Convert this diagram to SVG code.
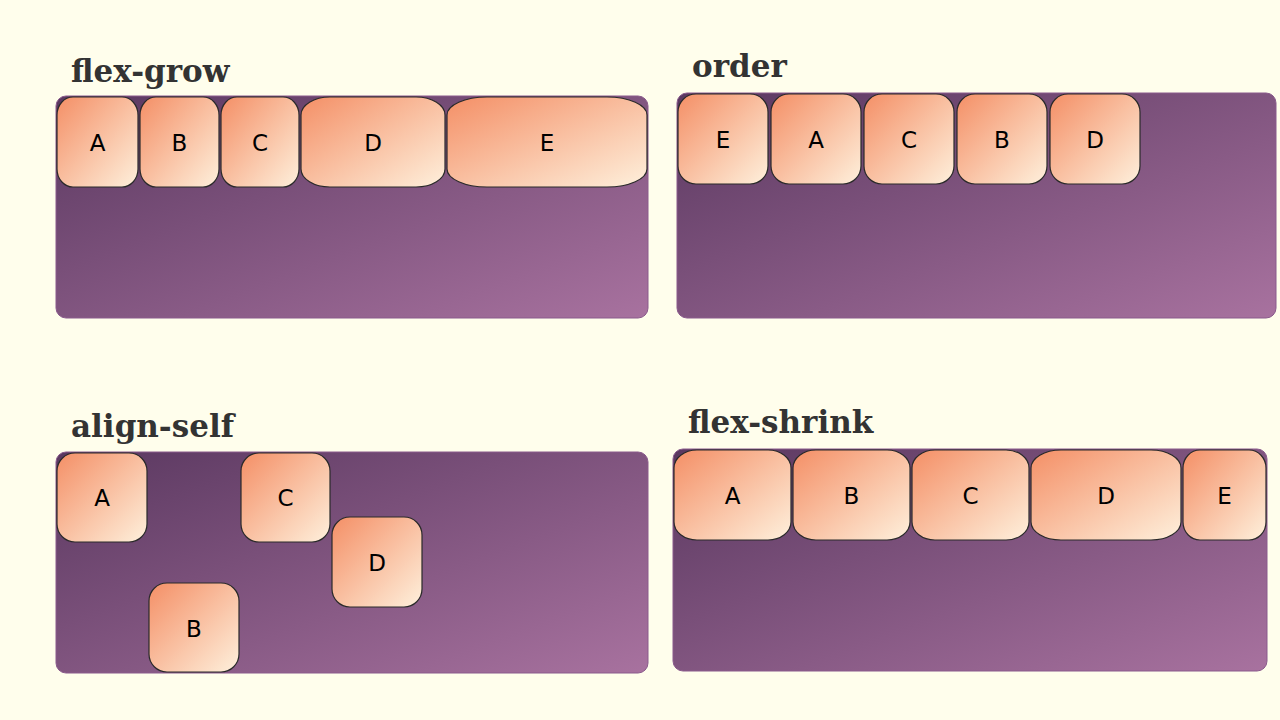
<svg xmlns="http://www.w3.org/2000/svg" width="1280" height="720" viewBox="0 0 1280 720">
<defs>
<linearGradient id="pg" x1="0" y1="0" x2="1" y2="1">
<stop offset="0" stop-color="#5a3860"/>
<stop offset="1" stop-color="#a8729f"/>
</linearGradient>
<linearGradient id="bg" x1="0" y1="0" x2="1" y2="1">
<stop offset="0" stop-color="#f48f66"/>
<stop offset="1" stop-color="#fef0dc"/>
</linearGradient>
<style>
.title{font-family:"DejaVu Serif","Liberation Serif",serif;font-weight:bold;font-size:31px;fill:#333}
.panel{fill:url(#pg);stroke:#8a5a8c;stroke-width:1}
.box{fill:url(#bg);stroke:#2a2a2a;stroke-width:1.2}
.lbl{font-family:"DejaVu Sans","Liberation Sans",sans-serif;font-size:23px;fill:#000;text-anchor:middle}
</style>
</defs>
<rect width="1280" height="720" fill="#fffeec"/>

<g id="panel-flex-grow">
<text class="title" x="71" y="82">flex-grow</text>
<rect class="panel" x="56" y="96" width="592" height="222" rx="10"/>
<g id="fg-A"><rect class="box" x="57" y="97" width="81" height="90" rx="16" ry="18"/><text class="lbl" x="97.5" y="151">A</text></g>
<g id="fg-B"><rect class="box" x="140" y="97" width="79" height="90" rx="16" ry="18"/><text class="lbl" x="179.5" y="151">B</text></g>
<g id="fg-C"><rect class="box" x="221" y="97" width="78" height="90" rx="16" ry="18"/><text class="lbl" x="260" y="151">C</text></g>
<g id="fg-D"><rect class="box" x="301" y="97" width="144" height="90" rx="29" ry="18"/><text class="lbl" x="373" y="151">D</text></g>
<g id="fg-E"><rect class="box" x="447" y="97" width="200" height="90" rx="40" ry="18"/><text class="lbl" x="547" y="151">E</text></g>
</g>

<g id="panel-order">
<text class="title" x="692" y="77">order</text>
<rect class="panel" x="677" y="93" width="599" height="225" rx="10"/>
<g id="or-E"><rect class="box" x="678" y="94" width="90" height="90" rx="18"/><text class="lbl" x="723" y="148">E</text></g>
<g id="or-A"><rect class="box" x="771" y="94" width="90" height="90" rx="18"/><text class="lbl" x="816" y="148">A</text></g>
<g id="or-C"><rect class="box" x="864" y="94" width="90" height="90" rx="18"/><text class="lbl" x="909" y="148">C</text></g>
<g id="or-B"><rect class="box" x="957" y="94" width="90" height="90" rx="18"/><text class="lbl" x="1002" y="148">B</text></g>
<g id="or-D"><rect class="box" x="1050" y="94" width="90" height="90" rx="18"/><text class="lbl" x="1095" y="148">D</text></g>
</g>

<g id="panel-align-self">
<text class="title" x="71" y="437">align-self</text>
<rect class="panel" x="56" y="452" width="592" height="221" rx="10"/>
<g id="as-A"><rect class="box" x="57" y="453" width="90" height="89" rx="18"/><text class="lbl" x="102" y="506">A</text></g>
<g id="as-C"><rect class="box" x="241" y="453" width="89" height="89" rx="18"/><text class="lbl" x="285.5" y="506">C</text></g>
<g id="as-D"><rect class="box" x="332" y="517" width="90" height="90" rx="18"/><text class="lbl" x="377" y="571">D</text></g>
<g id="as-B"><rect class="box" x="149" y="583" width="90" height="89" rx="18"/><text class="lbl" x="194" y="637">B</text></g>
</g>

<g id="panel-flex-shrink">
<text class="title" x="688" y="433">flex-shrink</text>
<rect class="panel" x="673" y="449" width="594" height="222" rx="10"/>
<g id="fs-A"><rect class="box" x="674" y="450" width="117" height="90" rx="23" ry="18"/><text class="lbl" x="732.5" y="504">A</text></g>
<g id="fs-B"><rect class="box" x="793" y="450" width="117" height="90" rx="23" ry="18"/><text class="lbl" x="851.5" y="504">B</text></g>
<g id="fs-C"><rect class="box" x="912" y="450" width="117" height="90" rx="23" ry="18"/><text class="lbl" x="970.5" y="504">C</text></g>
<g id="fs-D"><rect class="box" x="1031" y="450" width="150" height="90" rx="30" ry="18"/><text class="lbl" x="1106" y="504">D</text></g>
<g id="fs-E"><rect class="box" x="1183" y="450" width="83" height="90" rx="17" ry="18"/><text class="lbl" x="1224.5" y="504">E</text></g>
</g>

<g id="connectors"></g>
</svg>
